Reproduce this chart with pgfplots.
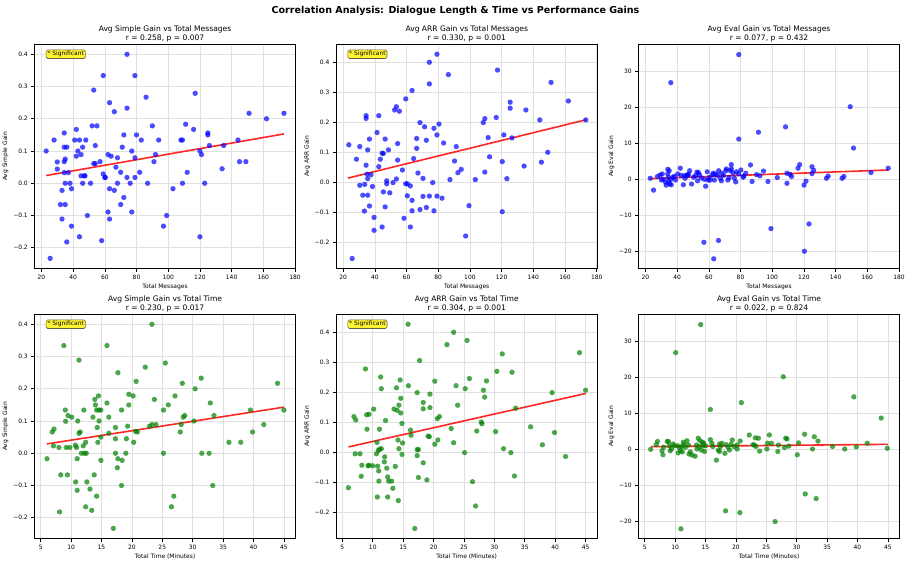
\documentclass[border=0pt]{standalone}
\usepackage{pgfplots}
\pgfplotsset{compat=1.18}
\usepackage{pgfplotstable}
\usepackage{fontspec}
\setmainfont{DejaVu Sans}

% Participants: total messages vs average simple gain
\pgfplotstableread{
x y
23 0.100
25.5 -0.233
28 0.134
30 0.066
30 0.044
32 -0.066
33 -0.022
33 -0.111
34.4 0.156
34.4 0.112
34.4 0.067
35 0.075
34.4 0.033
35 0.0
35 -0.066
36 0.112
36 -0.182
37 0.033
38 0.0
39 -0.017
39 -0.133
41 0.134
42 0.167
42 0.084
43 0.100
44 0.134
44 -0.166
45 0.089
45 0.023
46 0.112
46 0.0
47 0.023
47.5 0.023
48 0.134
49 -0.100
51 0.0
52 0.178
53 0.289
53 0.061
54 0.117
54 0.061
55 0.178
57 0.067
58 -0.178
59 0.334
59 0.029
60 0.018
60.3 0.018
62 0.089
62 -0.089
63 0.250
63 -0.017
63 -0.111
64 0.084
66 0.222
66 -0.022
67 0.050
68 0.079
68 0.0
70 0.034
70 -0.066
71 0.112
72 0.150
72 -0.044
74 0.400
74 0.233
74 0.018
76 0.0
77 0.100
77 -0.089
79 0.334
79 0.079
79 0.018
80 0.150
82 0.034
83 0.134
86 0.267
87 0.0
90 0.178
91 0.067
92 0.089
94 0.134
97 -0.133
99 -0.100
103 -0.017
108 0.134
109 0.134
109 0.0
111 0.183
112 0.034
116 0.167
117 0.279
120 0.100
120 -0.166
121 0.089
123 0.0
125 0.150
125 0.156
126 0.117
134 0.045
135 0.117
144 0.134
145 0.067
149 0.067
151 0.217
162 0.200
173 0.217
}\msgsimple

% Total messages vs average ARR gain
\pgfplotstableread{
x y
23.6 0.125
25.7 -0.254
28.4 0.077
30.5 0.119
30.5 -0.010
32.4 -0.043
33.4 -0.096
33.6 -0.007
34.5 0.222
34.5 0.213
34.5 0.057
35.1 0.027
35.5 0.108
35.5 0.012
35.5 -0.043
36.6 0.144
36.6 -0.079
37.6 0.025
38.5 -0.014
39.5 -0.117
39.5 -0.160
41.4 0.166
42.5 0.222
42.5 0.052
43.5 0.077
44.6 0.097
44.6 -0.149
45.4 0.096
45.4 -0.032
46.5 0.144
46.5 -0.082
47.5 0.005
47.5 -0.005
48.6 0.108
49.4 -0.035
51.5 -0.001
52.5 0.241
53.6 0.252
53.6 0.011
54.4 0.129
54.4 0.074
55.5 0.237
57.4 0.041
58.4 -0.120
59.5 0.278
59.5 -0.005
60.5 -0.005
60.5 -0.045
62.4 -0.012
62.4 -0.149
63.5 0.306
63.5 -0.060
63.5 -0.095
64.5 0.079
66.4 0.113
66.4 0.146
67.2 0.031
68.5 0.199
68.5 -0.091
70.4 0.013
70.4 -0.047
71.4 0.185
72.5 0.140
72.5 -0.084
74.4 0.400
74.4 0.328
74.4 -0.046
76.5 -0.001
77.3 0.180
77.3 -0.095
79.2 0.427
79.2 0.158
79.2 -0.046
80.5 0.194
82.4 -0.053
83.4 0.131
86.4 0.359
87.4 0.009
90.3 0.071
91.4 0.119
92.4 0.032
94.5 0.043
97.3 -0.179
99.4 -0.078
103.4 0.009
108.4 0.199
109.4 0.212
109.4 0.034
111.5 0.149
112.4 0.085
116.6 0.216
117.4 0.374
120.4 0.069
120.4 -0.098
121.4 0.158
123.3 0.012
125.4 0.267
125.4 0.247
126.5 0.148
134.2 0.054
135.3 0.241
144.1 0.208
145.1 0.067
149.1 0.100
151.2 0.333
162.1 0.271
173.1 0.208
}\msgarr

% Total messages vs average eval gain
\pgfplotstableread{
x y
23.0 0.2
25.1 -3.1
27.6 0.7
29.3 1.1
30.1 -0.3
30.6 1.4
31.4 -0.1
32.7 -0.9
33.1 -1.7
34.1 2.7
34.1 1.4
34.4 0.5
34.6 -0.7
35.0 2.3
35.2 -1.4
36.0 26.8
36.0 -0.1
36.3 -1.6
37.3 0.5
38.2 0.7
39.0 -0.3
40.3 1.4
42.0 3.0
42.4 1.0
43.9 -1.6
44.3 0.9
45.0 0.2
46.0 1.1
46.6 1.0
47.2 1.3
47.9 2.3
49.1 -1.4
50.4 0.5
51.5 0.9
52.5 1.9
52.9 -0.5
53.4 1.8
54.2 1.1
55.3 0.3
57.2 -0.1
56.9 -17.6
58.0 -2.0
59.0 2.0
59.5 -0.3
60.1 0.4
60.9 -0.3
62.2 1.1
62.8 1.6
63.1 -22.2
63.5 -0.3
64.1 1.4
65.4 1.0
66.1 -17.1
66.2 2.3
67.3 0.2
67.9 -0.5
68.1 1.6
69.4 1.0
70.7 2.3
71.1 2.8
72.0 -0.3
72.8 0.4
73.6 2.3
74.2 4.0
74.2 2.8
75.3 1.6
76.1 0.2
77.0 -0.8
77.4 2.0
78.9 34.6
78.9 11.1
78.9 1.4
80.2 2.5
81.6 0.5
82.1 0.8
83.3 1.6
86.3 3.9
87.3 -0.7
90.1 1.2
91.3 13.0
92.2 0.9
94.5 2.2
97.3 -0.7
99.2 -13.8
103.2 0.4
108.4 14.5
109.3 -1.2
109.3 1.6
111.2 1.3
112.2 0.7
116.3 3.0
117.3 4.0
120.1 -1.7
120.3 -20.1
121.3 -0.6
123.2 -12.5
125.1 3.4
125.1 1.5
126.2 2.4
134.2 0.2
135.3 0.8
144.1 0.2
145.2 0.7
149.2 20.1
151.3 8.6
162.3 1.8
173.2 3.0
}\msgeval

% Total time (minutes) vs average simple gain
\pgfplotstableread{
x y
6.04 -0.017
6.9 0.066
7.2 0.075
7.1 0.023
8.0 0.018
8.1 -0.182
8.3 -0.067
8.8 0.334
9.05 0.134
9.1 0.099
9.2 0.018
9.4 -0.067
9.5 0.117
9.8 0.018
10.1 0.112
10.7 0.025
10.75 -0.089
10.9 0.018
11.0 -0.017
11.0 -0.115
11.1 0.100
11.3 0.289
11.3 0.062
11.5 0.066
11.7 0.0
12.0 0.023
12.1 0.134
12.2 0.0
12.4 0.034
12.4 -0.166
12.5 0.0
12.6 -0.089
13.1 -0.111
13.4 -0.177
13.6 0.112
13.8 -0.067
13.9 0.167
14.0 0.150
14.2 0.134
14.2 -0.133
14.3 0.080
14.4 0.034
14.5 0.178
14.6 0.134
14.6 0.100
14.9 0.134
14.9 -0.022
14.9 0.050
15.9 0.334
15.9 0.156
16.2 0.062
16.2 0.112
16.95 -0.233
17.3 0.080
17.3 0.045
17.3 0.0
17.6 -0.045
17.7 0.250
17.7 -0.017
18.3 0.134
18.3 -0.100
18.4 -0.022
19.0 0.0
19.1 0.045
19.3 0.084
19.5 0.183
19.5 0.150
20.2 0.178
20.3 0.034
20.7 0.223
20.6 0.068
20.9 0.066
22.2 0.267
22.9 0.084
23.3 0.089
23.3 0.400
23.7 0.167
23.96 0.089
25.2 0.134
25.2 0.0
25.5 0.280
25.99 0.150
26.5 -0.166
26.9 -0.133
27.1 0.178
27.96 0.066
28.1 0.089
28.3 0.217
28.45 0.112
28.7 0.117
30.4 0.200
30.2 0.100
31.4 0.233
31.5 0.0
32.7 0.0
32.9 0.156
33.3 -0.100
33.5 0.117
35.96 0.034
37.9 0.034
39.5 0.134
39.85 0.066
41.7 0.089
43.96 0.217
45.0 0.134
}\timesimple

% Total time (minutes) vs average ARR gain
\pgfplotstableread{
x y
5.99 -0.118
6.9 0.119
7.1 -0.005
7.2 0.108
7.9 -0.005
8.1 -0.080
8.2 -0.043
8.8 0.278
9.0 0.125
9.05 0.077
9.2 -0.045
9.4 0.127
9.4 -0.043
9.99 -0.045
10.15 0.144
10.6 -0.005
10.7 0.033
10.75 -0.149
10.8 -0.046
10.9 0.006
10.97 -0.062
11.0 -0.096
11.1 0.077
11.1 0.010
11.3 0.251
11.4 0.212
11.4 0.012
11.96 -0.015
11.9 -0.032
12.1 0.106
12.3 -0.053
12.45 -0.082
12.45 -0.149
12.6 -0.096
13.1 -0.096
13.3 -0.120
13.5 0.144
13.7 -0.047
13.9 0.215
14.0 0.140
14.15 0.041
14.2 -0.161
14.3 0.157
14.3 0.012
14.5 0.241
14.6 0.180
14.6 0.131
14.8 0.096
14.9 0.031
14.8 -0.007
15.8 0.427
15.85 0.222
16.2 0.074
16.3 0.057
16.9 -0.254
17.3 0.199
17.3 -0.011
17.3 0.009
17.5 0.009
17.5 -0.084
17.7 0.306
18.3 0.166
18.3 0.145
18.3 -0.035
18.9 -0.092
19.1 0.054
19.3 0.052
19.4 0.194
19.4 0.149
20.2 0.237
20.2 0.027
20.6 0.112
20.7 0.041
20.95 0.119
22.2 0.359
22.9 0.079
23.3 0.400
23.3 0.032
23.7 0.222
23.96 0.157
25.1 -0.001
25.2 0.212
25.5 0.373
25.9 0.246
26.4 -0.098
26.9 -0.179
27.1 0.071
27.85 0.101
27.96 0.095
28.2 0.207
28.4 0.184
28.7 0.238
30.2 0.069
30.4 0.270
31.3 0.328
31.5 0.012
32.7 -0.001
32.9 0.267
33.3 -0.079
33.5 0.147
35.96 0.085
37.9 0.025
39.5 0.199
39.9 0.066
41.7 -0.014
44.0 0.332
45.0 0.207
}\timearr

% Total time (minutes) vs average eval gain
\pgfplotstableread{
x y
5.98 -0.1
6.9 1.2
7.1 2.1
7.85 -0.5
8.0 -1.6
8.1 0.5
8.7 2.1
8.9 2.1
9.05 0.9
9.2 -0.5
9.4 0.0
9.65 1.4
9.9 0.9
10.1 26.8
10.4 0.9
10.5 -1.1
10.7 0.4
10.85 -0.5
10.96 -22.2
11.1 0.7
11.2 -0.8
11.35 1.9
11.45 1.2
11.7 0.5
11.95 2.3
12.2 1.1
12.3 -1.4
12.5 -0.8
12.8 -1.7
13.3 -2.0
13.5 1.1
13.6 0.0
13.8 3.0
13.97 0.7
14.1 2.3
14.2 34.6
14.3 -0.3
14.5 1.9
14.6 0.9
14.7 1.6
14.85 -0.7
15.0 0.9
15.8 11.0
15.8 2.6
16.05 1.6
16.2 0.7
16.8 -3.1
17.1 -0.3
17.3 1.4
17.3 -0.7
17.5 0.7
17.7 1.6
18.2 -1.2
18.3 -17.2
18.4 1.2
18.7 0.5
18.95 -0.3
19.2 1.3
19.4 2.5
19.7 0.7
20.2 0.0
20.2 1.1
20.65 -17.7
20.7 2.2
20.9 12.9
22.2 3.9
22.8 1.2
23.05 1.1
23.2 3.1
23.3 0.7
23.7 3.0
23.9 -0.6
25.1 0.0
25.2 1.6
25.5 3.9
25.85 1.6
26.45 -20.2
26.9 -0.7
27.0 1.1
27.8 20.1
28.0 0.4
28.2 3.0
28.4 2.8
28.7 0.8
30.1 -1.6
30.3 1.7
31.3 4.1
31.4 -12.5
32.6 0.0
32.9 3.4
33.2 -13.8
33.5 2.2
35.9 0.7
37.9 0.0
39.4 14.5
39.8 0.6
41.6 1.6
43.9 8.6
44.9 0.2
}\timeeval

\definecolor{ptblue}{RGB}{0,0,255}
\definecolor{ptgreen}{RGB}{0,128,0}

\pgfplotsset{
  panel/.style={
    scale only axis, width=261.5bp, height=224.7bp,
    anchor=south west,
    axis line style={black, line width=0.8bp},
    grid=major, grid style={black!12, line width=0.6bp},
    tick align=outside, tick pos=left, major tick length=3bp,
    tick style={black, line width=0.6bp},
    /pgf/number format/assume math mode=true,
    ticklabel style={font=\fontsize{6}{7}\selectfont},
    xticklabel style={yshift=0.5bp},
    label style={font=\fontsize{6}{7}\selectfont},
    xlabel style={yshift=2.5bp},
    ylabel style={yshift=-2bp},
    title style={font=\fontsize{7.6}{8.9}\selectfont, align=center, yshift=-7.5bp},
  },
  msgx/.style={xmin=15.5, xmax=180.5, xtick={20,40,...,180}, xlabel={Total Messages}},
  timex/.style={xmin=3.95, xmax=46.96, xtick={5,10,...,45}, xlabel={Total Time (Minutes)}},
  simpley/.style={ymin=-0.265, ymax=0.432, ytick={-0.2,-0.1,0,0.1,0.2,0.3,0.4},
    yticklabels={−0.2,−0.1,0.0,0.1,0.2,0.3,0.4}, ylabel={Avg Simple Gain}},
  arry/.style={ymin=-0.288, ymax=0.461, ytick={-0.2,-0.1,0,0.1,0.2,0.3,0.4},
    yticklabels={−0.2,−0.1,0.0,0.1,0.2,0.3,0.4}, ylabel={Avg ARR Gain}},
  evaly/.style={ymin=-24.95, ymax=37.55, ytick={-20,-10,0,10,20,30},
    yticklabels={−20,−10,0,10,20,30}, ylabel={Avg Eval Gain}},
  % pgf plot marks always fill and stroke, so the stroke is hidden by its opacity
  bluepts/.style={ptblue, only marks, mark=*, mark size=2.65bp,
    mark options={draw opacity=0, fill=ptblue, fill opacity=0.7}},
  greenpts/.style={ptgreen, only marks, mark=*, mark size=2.65bp,
    mark options={draw opacity=0, fill=ptgreen, fill opacity=0.7}},
  fitline/.style={red, opacity=0.85, line width=1.6bp},
}

% significance badge in the upper-left corner of a panel
\newcommand{\sigbadge}{%
  \node[draw=black!70!yellow, fill=yellow!80!white, rounded corners=1.5bp,
    line width=0.6bp, inner sep=1.4bp, anchor=north west,
    font=\fontsize{6}{7}\selectfont] at (rel axis cs:0.044,0.975) {* Significant};}

\begin{document}
\begin{tikzpicture}
\path[use as bounding box] (0,0) rectangle (911bp,564bp);

\node[font=\fontsize{9.6}{11}\selectfont\bfseries] at (455.5bp,553.5bp)
  {Correlation Analysis: Dialogue Length \& Time vs Performance Gains};

% top row: total messages
\begin{axis}[panel, msgx, simpley, at={(34.3bp,295.3bp)},
  title={Avg Simple Gain vs Total Messages\\r = 0.258, p = 0.007}]
  \addplot[bluepts] table {\msgsimple};
  \addplot[fitline] coordinates {(23,0.024) (173,0.153)};
  \sigbadge
\end{axis}

\begin{axis}[panel, msgx, arry, at={(336bp,295.3bp)},
  title={Avg ARR Gain vs Total Messages\\r = 0.330, p = 0.001}]
  \addplot[bluepts] table {\msgarr};
  \addplot[fitline] coordinates {(23,0.014) (173,0.208)};
  \sigbadge
\end{axis}

\begin{axis}[panel, msgx, evaly, at={(638.3bp,295.3bp)},
  title={Avg Eval Gain vs Total Messages\\r = 0.077, p = 0.432}]
  \addplot[bluepts] table {\msgeval};
  \addplot[fitline] coordinates {(23,0.1) (173,2.5)};
\end{axis}

% bottom row: total time
\begin{axis}[panel, timex, simpley, at={(34.3bp,25.3bp)},
  title={Avg Simple Gain vs Total Time\\r = 0.230, p = 0.017}]
  \addplot[greenpts] table {\timesimple};
  \addplot[fitline] coordinates {(6,0.029) (45,0.143)};
  \sigbadge
\end{axis}

\begin{axis}[panel, timex, arry, at={(336bp,25.3bp)},
  title={Avg ARR Gain vs Total Time\\r = 0.304, p = 0.001}]
  \addplot[greenpts] table {\timearr};
  \addplot[fitline] coordinates {(6,0.018) (45,0.196)};
  \sigbadge
\end{axis}

\begin{axis}[panel, timex, evaly, at={(638.3bp,25.3bp)},
  title={Avg Eval Gain vs Total Time\\r = 0.022, p = 0.824}]
  \addplot[greenpts] table {\timeeval};
  \addplot[fitline] coordinates {(6,0.65) (45,1.3)};
\end{axis}
\end{tikzpicture}
\end{document}
